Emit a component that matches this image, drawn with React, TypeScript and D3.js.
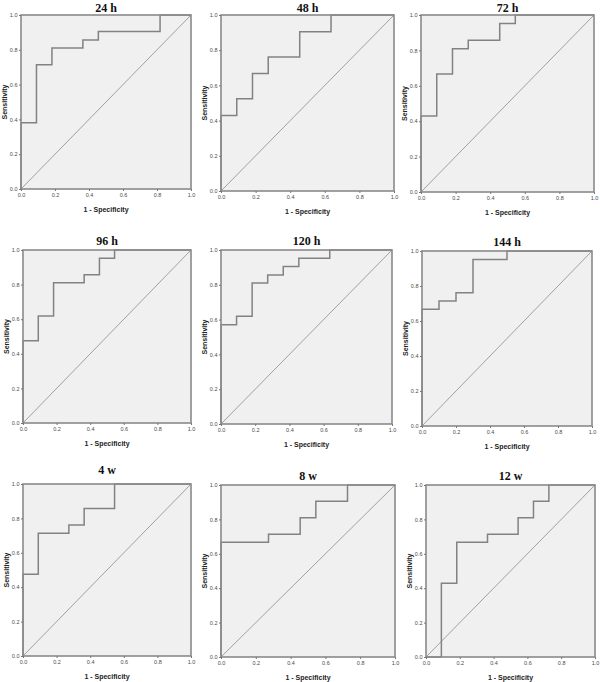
import React, { useEffect, useRef } from "react";
import * as d3 from "d3";

// ROC curves, one per time point (x = 1 - specificity, y = sensitivity)
const titles = ["24 h", "48 h", "72 h", "96 h", "120 h", "144 h", "4 w", "8 w", "12 w"];

const fpr24h = [0, 0, 0.091, 0.182, 0.364, 0.455, 0.818, 1];
const tpr24h = [0, 0.381, 0.714, 0.81, 0.857, 0.905, 1, 1];

const fpr48h = [0, 0, 0.091, 0.182, 0.273, 0.455, 0.636, 1];
const tpr48h = [0, 0.429, 0.524, 0.667, 0.762, 0.905, 1, 1];

const fpr72h = [0, 0, 0.091, 0.182, 0.273, 0.455, 0.545, 1];
const tpr72h = [0, 0.429, 0.667, 0.81, 0.857, 0.952, 1, 1];

const fpr96h = [0, 0, 0.091, 0.182, 0.364, 0.455, 0.545, 1];
const tpr96h = [0, 0.476, 0.619, 0.81, 0.857, 0.952, 1, 1];

const fpr120h = [0, 0, 0.091, 0.182, 0.273, 0.364, 0.455, 0.636, 1];
const tpr120h = [0, 0.571, 0.619, 0.81, 0.857, 0.905, 0.952, 1, 1];

const fpr144h = [0, 0, 0.1, 0.2, 0.3, 0.5, 1];
const tpr144h = [0, 0.667, 0.714, 0.762, 0.952, 1, 1];

const fpr4w = [0, 0, 0.091, 0.273, 0.364, 0.545, 1];
const tpr4w = [0, 0.476, 0.714, 0.762, 0.857, 1, 1];

const fpr8w = [0, 0, 0.273, 0.455, 0.545, 0.727, 1];
const tpr8w = [0, 0.667, 0.714, 0.81, 0.905, 1, 1];

const fpr12w = [0, 0.091, 0.182, 0.364, 0.545, 0.636, 0.727, 1];
const tpr12w = [0, 0.429, 0.667, 0.714, 0.81, 0.905, 1, 1];

const fprs = [fpr24h, fpr48h, fpr72h, fpr96h, fpr120h, fpr144h, fpr4w, fpr8w, fpr12w];
const tprs = [tpr24h, tpr48h, tpr72h, tpr96h, tpr120h, tpr144h, tpr4w, tpr8w, tpr12w];

const ticks = [0, 0.2, 0.4, 0.6, 0.8, 1.0];

// plot boxes in page pixels
const boxes = [
  { x: 21, y: 15, w: 170, h: 174, t: 3.5 },
  { x: 221, y: 15, w: 173, h: 176, t: 3.5 },
  { x: 421, y: 15, w: 173, h: 177, t: 3.5 },
  { x: 23, y: 250, w: 168, h: 173, t: 5 },
  { x: 221, y: 250, w: 171, h: 174, t: 5 },
  { x: 422, y: 251, w: 170, h: 175, t: 5 },
  { x: 23, y: 484, w: 168, h: 172, t: 10 },
  { x: 221, y: 485, w: 174, h: 172, t: 5 },
  { x: 426, y: 485, w: 169, h: 172, t: 5 },
];

const App = () => {
  const ref = useRef<SVGSVGElement>(null);

  useEffect(() => {
    const svg = d3.select(ref.current);
    svg.selectAll("*").remove();

    boxes.forEach((b, i) => {
      const g = svg.append("g").attr("transform", `translate(${b.x},${b.y})`);
      const x = d3.scaleLinear().domain([0, 1]).range([0, b.w]);
      const y = d3.scaleLinear().domain([0, 1]).range([b.h, 0]);

      g.append("rect")
        .attr("width", b.w)
        .attr("height", b.h)
        .attr("fill", "#f0f0f0");

      // reference diagonal
      g.append("line")
        .attr("x1", x(0)).attr("y1", y(0))
        .attr("x2", x(1)).attr("y2", y(1))
        .attr("stroke", "#a0a0a0")
        .attr("stroke-width", 1);

      const pts = fprs[i].map((v, k) => [v, tprs[i][k]] as [number, number]);
      const line = d3.line<[number, number]>()
        .x(d => x(d[0]))
        .y(d => y(d[1]))
        .curve(d3.curveStepAfter);

      g.append("path")
        .attr("d", line(pts))
        .attr("fill", "none")
        .attr("stroke", "#828282")
        .attr("stroke-width", 1.5);

      g.append("rect")
        .attr("width", b.w)
        .attr("height", b.h)
        .attr("fill", "none")
        .attr("stroke", "#8a8a8a")
        .attr("stroke-width", 1.6);

      const fmt = d3.format(".1f");
      const xa = g.append("g")
        .attr("transform", `translate(0,${b.h})`)
        .call(d3.axisBottom(x).tickValues(ticks).tickFormat(d => fmt(d as number)).tickSize(2).tickSizeOuter(0));
      const ya = g.append("g")
        .call(d3.axisLeft(y).tickValues(ticks).tickFormat(d => fmt(d as number)).tickSize(2).tickSizeOuter(0));

      [xa, ya].forEach(a => {
        a.select(".domain").remove();
        a.selectAll("line").attr("stroke", "#777");
        a.selectAll("text")
          .attr("font-family", "Liberation Sans, Arial, sans-serif")
          .attr("font-size", 5.5)
          .attr("fill", "#4a4a4a");
      });
      xa.selectAll("text").attr("dy", "0.9em").attr("y", 3);
      ya.selectAll("text").attr("x", -3.5);

      g.append("text")
        .attr("x", b.w / 2)
        .attr("y", -b.t)
        .attr("text-anchor", "middle")
        .attr("font-family", "Liberation Serif, Times New Roman, serif")
        .attr("font-weight", "bold")
        .attr("font-size", 12)
        .attr("fill", "#111")
        .text(titles[i]);

      g.append("text")
        .attr("x", b.w / 2)
        .attr("y", b.h + 23)
        .attr("text-anchor", "middle")
        .attr("font-family", "Liberation Sans, Arial, sans-serif")
        .attr("font-weight", "bold")
        .attr("font-size", 7)
        .attr("fill", "#222")
        .text("1 - Specificity");

      g.append("text")
        .attr("transform", `translate(${-14},${b.h / 2}) rotate(-90)`)
        .attr("text-anchor", "middle")
        .attr("font-family", "Liberation Sans, Arial, sans-serif")
        .attr("font-weight", "bold")
        .attr("font-size", 7)
        .attr("fill", "#222")
        .text("Sensitivity");
    });
  }, []);

  return (
    <svg
      ref={ref}
      width={600}
      height={682}
      style={{ position: "absolute", left: 0, top: 0, background: "#fff" }}
    ></svg>
  );
};

export default App;
